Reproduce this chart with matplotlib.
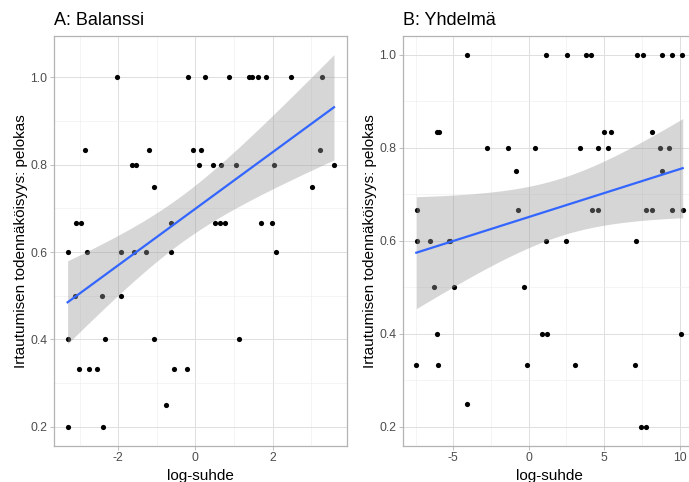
import numpy as np
import matplotlib
matplotlib.use("Agg")
import matplotlib.pyplot as plt
from matplotlib.ticker import MultipleLocator

plt.rcParams['font.family'] = ['Liberation Sans', 'DejaVu Sans']
plt.rcParams['axes.unicode_minus'] = False

# panel A: Balanssi
a_x = [-2.03, -0.19, 0.24, 0.88, 1.39, 1.47, 1.63, 1.83, 2.48, 3.28,
       -2.86, -1.20, -0.06, 0.14, 3.22,
       -1.63, -1.54, 0.10, 0.46, 0.67, 1.04, 2.04, 3.59,
       -1.06, 3.01,
       -3.08, -2.96, -0.64, 0.52, 0.63, 0.76, 1.70, 1.98,
       -3.31, -2.81, -1.93, -1.59, -1.28, -0.62, 2.08,
       -3.11, -2.41, -1.93,
       -3.31, -2.34, -1.08, 1.12,
       -3.02, -2.76, -2.55, -0.56, -0.22,
       -0.76,
       -3.29, -2.39]
a_y = [1.0] * 10 + [5/6] * 5 + [0.8] * 8 + [0.75] * 2 + [2/3] * 8 + \
      [0.6] * 7 + [0.5] * 3 + [0.4] * 4 + [1/3] * 5 + [0.25] + [0.2] * 2

# panel B: Yhdelmä
b_x = [-4.12, 1.18, 2.57, 3.83, 4.12, 7.21, 7.58, 8.84, 9.52, 10.19,
       -6.05, -5.95, 5.02, 5.48, 8.20,
       -2.79, -1.40, 0.40, 3.39, 4.58, 5.25, 8.71, 9.28,
       -0.83, 8.82,
       -7.43, -0.74, 4.23, 4.62, 7.80, 8.18, 9.52, 10.21,
       -7.43, -6.54, -5.31, -5.20, 1.16, 2.50, 7.12,
       -6.30, -4.93, -0.28,
       -6.10, 0.87, 1.23, 10.10,
       -7.45, -5.99, -0.10, 3.06, 7.05,
       -4.07,
       7.45, 7.78]
b_y = [1.0] * 10 + [5/6] * 5 + [0.8] * 8 + [0.75] * 2 + [2/3] * 8 + \
      [0.6] * 7 + [0.5] * 3 + [0.4] * 4 + [1/3] * 5 + [0.25] + [0.2] * 2

W, H = 689, 482
fig = plt.figure(figsize=(W / 100, H / 100), dpi=100)


def smooth(x, y):
    x = np.asarray(x)
    y = np.asarray(y)
    n = len(x)
    b, a = np.polyfit(x, y, 1)
    res = y - (a + b * x)
    s = np.sqrt(np.sum(res ** 2) / (n - 2))
    xs = np.linspace(x.min(), x.max(), 80)
    fit = a + b * xs
    se = s * np.sqrt(1 / n + (xs - x.mean()) ** 2 / np.sum((x - x.mean()) ** 2))
    t = 2.0
    return xs, fit, fit - t * se, fit + t * se


def panel(rect, x, y, title, xstep):
    ax = fig.add_axes(rect)
    xs, fit, lo, hi = smooth(x, y)
    ax.scatter(x, y, s=14, color='black', linewidths=0, zorder=2)
    ax.fill_between(xs, lo, hi, color='#999999', alpha=0.4, linewidth=0, zorder=3)
    ax.plot(xs, fit, color='#3366FF', lw=1.6, zorder=4)

    xmin, xmax = min(x), max(x)
    ymin = min(min(y), lo.min())
    ymax = max(max(y), hi.max())
    dx = (xmax - xmin) * 0.05
    dy = (ymax - ymin) * 0.05
    ax.set_xlim(xmin - dx, xmax + dx)
    ax.set_ylim(ymin - dy, ymax + dy)

    ax.xaxis.set_major_locator(MultipleLocator(xstep))
    ax.xaxis.set_minor_locator(MultipleLocator(xstep / 2))
    ax.yaxis.set_major_locator(MultipleLocator(0.2))
    ax.yaxis.set_minor_locator(MultipleLocator(0.1))
    ax.yaxis.set_major_formatter(lambda v, p: f"{v:.1f}")
    ax.grid(True, which='major', color='#DEDEDE', lw=0.7, zorder=0)
    ax.grid(True, which='minor', color='#EFEFEF', lw=0.45, zorder=0)
    ax.set_axisbelow(True)
    for sp in ax.spines.values():
        sp.set_color('#B3B3B3')
        sp.set_linewidth(0.9)
    ax.tick_params(which='major', length=2.8, width=0.6, color='#B3B3B3',
                   labelcolor='#4D4D4D', labelsize=8.8, pad=2.2)
    ax.tick_params(which='minor', length=0)
    ax.set_xlabel('log-suhde', fontsize=11, color='black', labelpad=3)
    ax.set_ylabel('Irtautumisen todennäköisyys: pelokas', fontsize=11,
                  color='black', labelpad=1.5)
    ax.set_title(title, loc='left', fontsize=13, pad=8)
    return ax


panel([54.3 / W, (H - 445.5) / H, 293 / W, 409.5 / H], a_x, a_y, 'A: Balanssi', 2)
panel([403 / W, (H - 445.5) / H, 293 / W, 409.5 / H], b_x, b_y, 'B: Yhdelmä', 5)

fig.savefig('out.png', dpi=100)
